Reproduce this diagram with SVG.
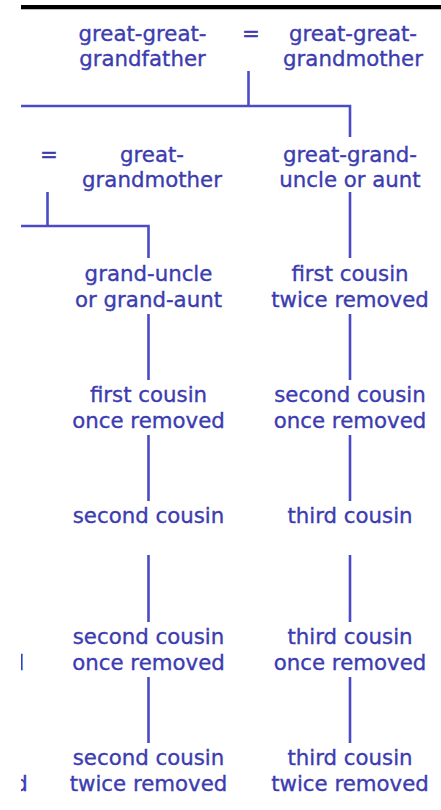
<svg xmlns="http://www.w3.org/2000/svg" width="441" height="810" viewBox="0 0 441 810">
<style>
text{font-family:"DejaVu Sans",Verdana,sans-serif;font-size:21.3px;fill:#3c3cb0;stroke:#3c3cb0;stroke-width:0.35;text-anchor:middle}
.ln{stroke:#4b4bc6;stroke-width:2.6;fill:none}
</style>
<defs><clipPath id="c"><rect x="21" y="0" width="420" height="810"/></clipPath></defs>
<rect width="441" height="810" fill="#fff"/>
<g clip-path="url(#c)">
<rect x="21" y="5" width="420" height="4" fill="#000"/>
<rect x="21" y="9" width="420" height="1" fill="#bbb"/>
<g id="connectors">
<path class="ln" d="M248.5 71V106M0 106H350V137M47.5 192V226M0 226H148.5V258"/>
<path class="ln" d="M350 192V258M350 314V380M350 435V501M350 555V622M350 677V743"/>
<path class="ln" d="M148.5 314V380M148.5 435V501M148.5 555V622M148.5 677V743"/>
</g>
<g id="ggf"><text x="142.5" y="41">great-great-</text><text x="142.5" y="66">grandfather</text></g>
<g id="eq1"><text x="251" y="41">=</text></g>
<g id="ggm"><text x="353" y="41">great-great-</text><text x="353" y="66">grandmother</text></g>
<g id="eq2"><text x="49" y="162">=</text></g>
<g id="gm"><text x="152" y="162">great-</text><text x="152" y="187">grandmother</text></g>
<g id="ggu"><text x="350" y="162">great-grand-</text><text x="350" y="187">uncle or aunt</text></g>
<g id="gu"><text x="148.5" y="281">grand-uncle</text><text x="148.5" y="307">or grand-aunt</text></g>
<g id="fc2"><text x="350" y="281">first cousin</text><text x="350" y="307">twice removed</text></g>
<g id="fc1"><text x="148.5" y="402">first cousin</text><text x="148.5" y="428">once removed</text></g>
<g id="sc1"><text x="350" y="402">second cousin</text><text x="350" y="428">once removed</text></g>
<g id="sc"><text x="148.5" y="523">second cousin</text></g>
<g id="tc"><text x="350" y="523">third cousin</text></g>
<g id="farleft1"><text x="-52" y="670">once removed</text></g>
<g id="sco"><text x="148.5" y="644">second cousin</text><text x="148.5" y="670">once removed</text></g>
<g id="tco"><text x="350" y="644">third cousin</text><text x="350" y="670">once removed</text></g>
<g id="farleft2"><text x="-51" y="791">twice removed</text></g>
<g id="sct"><text x="148.5" y="765">second cousin</text><text x="148.5" y="791">twice removed</text></g>
<g id="tct"><text x="350" y="765">third cousin</text><text x="350" y="791">twice removed</text></g>
</g>
</svg>
